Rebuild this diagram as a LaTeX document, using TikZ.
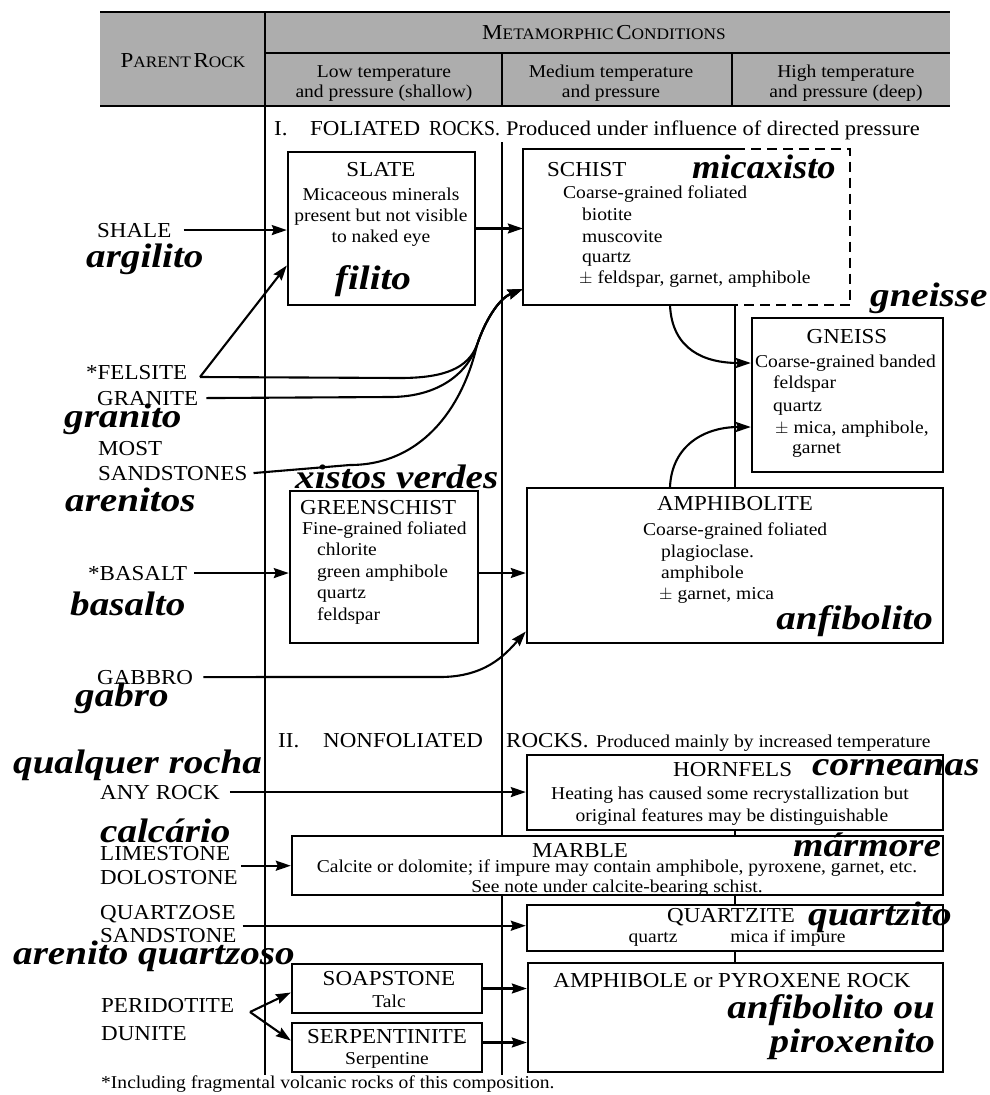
\documentclass[tikz,border=0pt]{standalone}
\usepackage{fontspec}
\setmainfont{Liberation Serif}[FakeStretch=1.08]
\newfontfamily\ptfont{Liberation Serif}[FakeStretch=1.15]
\usetikzlibrary{arrows.meta,fit}
\definecolor{hdr}{gray}{0.68}
\newcommand{\fs}[1]{\fontsize{#1}{#1}\selectfont}
\newcommand{\scx}[2]{{\fs{21.3}#1}{\fs{16}#2}}
\begin{document}
\begin{tikzpicture}[x=1pt,y=-1pt,
  bx/.style={draw, line width=2.4pt, inner sep=0pt},
  rule/.style={line width=1.9pt},
  arr/.style={line width=2.1pt, -{Stealth[length=15pt,width=10pt,inset=2pt]}},
  caplbl/.style={inner sep=0pt, anchor=base west, font={\fs{21.3}}},
  ttl/.style={inner sep=0pt, anchor=base, font={\fs{21.3}}},
  tx/.style={inner sep=0pt, anchor=base west, font={\fs{18.1}}},
  ctx/.style={inner sep=0pt, anchor=base, font={\fs{18.1}}},
  pw/.style={inner sep=0pt, anchor=base west, font={\ptfont\fs{34}\bfseries\itshape}},
  pe/.style={pw, anchor=base east},
  pc/.style={pw, anchor=base}]
\useasboundingbox (0,0) rectangle (989,1095);
\fill[white] (0,0) rectangle (989,1095);

% ---------- header ----------
\fill[hdr] (100,12) rectangle (950,106);
\draw[line width=2.4pt] (100,12) -- (950,12);
\draw[line width=2.2pt] (100,106) -- (950,106);
\draw[rule] (265,53) -- (950,53);
\draw[rule] (502,53) -- (502,106);
\draw[rule] (732,53) -- (732,106);
\draw[rule] (265,12) -- (265,1075);
\node[inner sep=0pt, anchor=base] (hpr) at (183,67) {\scx{P}{ARENT} \scx{R}{OCK}};
\node[inner sep=0pt, anchor=base] (hmc) at (604,39) {\scx{M}{ETAMORPHIC} \scx{C}{ONDITIONS}};
\node[ctx] (hl1) at (384,77) {Low temperature};
\node[ctx] (hl2) at (384,97) {and pressure (shallow)};
\node[ctx] (hm1) at (611,77) {Medium temperature};
\node[ctx] (hm2) at (611,97) {and pressure};
\node[ctx] (hh1) at (846,77) {High temperature};
\node[ctx] (hh2) at (846,97) {and pressure (deep)};

% ---------- section I ----------
\node[tx, font={\fs{21.3}}] (sec1a) at (274,135) {I.};
\node[tx, font={\fs{21.3}}] (sec1b) at (310,135) {FOLIATED};
\node[tx, font={\fs{21.3}}] (sec1c) at (429,135) {\scalebox{0.86}[1]{ROCKS.}};
\node[tx, font={\fs{20.8}}] (sec1d) at (506,135) {Produced under influence of directed pressure};

\node[bx, fit={(288,152) (475,305)}] (slate) {};
\node[inner sep=0pt, fit={(523,149) (850,305)}] (schist) {};
\node[bx, fit={(752,318) (943,472)}] (gneiss) {};
\node[bx, fit={(290,491) (478,643)}] (green) {};
\node[bx, fit={(527,488) (943,643)}] (amph) {};

\coordinate (v735) at (735,0);
\coordinate (v670) at (670,0);
\draw[line width=2.4pt] (schist.north -| v735) -- (schist.north west) -- (schist.south west) -- (schist.south -| v735);
\draw[line width=2.4pt, dash pattern=on 10pt off 6pt] (schist.north -| v735) -- (schist.north east) -- (schist.south east) -- (schist.south -| v735);
\draw[rule] (schist.south -| v735) -- (amph.north -| v735);

% slate text
\node[ttl] (slt) at (381,176) {SLATE};
\node[ctx] (sl1) at (381,200) {Micaceous minerals};
\node[ctx] (sl2) at (381,221) {present but not visible};
\node[ctx] (sl3) at (381,242) {to naked eye};
\node[pc] (filito) at (373,289) {filito};

% schist text
\node[caplbl] (sct) at (547,176) {SCHIST};
\node[tx] (sc1) at (563,198) {Coarse-grained foliated};
\node[tx] (sc2) at (582,220) {biotite};
\node[tx] (sc3) at (582,242) {muscovite};
\node[tx] (sc4) at (582,262) {quartz};
\node[tx] (sc5) at (579,283) {$\pm$ feldspar, garnet, amphibole};
\node[pw] (micax) at (692,178) {\scalebox{0.93}[1]{micaxisto}};

% gneiss text
\node[pw] (gneisse) at (870,306) {gneisse};
\node[ttl] (gnt) at (847,343) {GNEISS};
\node[tx] (gn1) at (755,367) {Coarse-grained banded};
\node[tx] (gn2) at (773,388) {feldspar};
\node[tx] (gn3) at (773,411) {quartz};
\node[tx] (gn4) at (775,433) {$\pm$ mica, amphibole,};
\node[tx] (gn5) at (792,453) {garnet};

% greenschist text
\node[pw] (xv) at (295,488) {xistos verdes};
\node[caplbl] (grt) at (300,514) {GREENSCHIST};
\node[tx] (gr1) at (302,534) {Fine-grained foliated};
\node[tx] (gr2) at (317,555) {chlorite};
\node[tx] (gr3) at (317,577) {green amphibole};
\node[tx] (gr4) at (317,598) {quartz};
\node[tx] (gr5) at (317,620) {feldspar};

% amphibolite text
\node[ttl] (amt) at (735,510) {AMPHIBOLITE};
\node[tx] (am1) at (643,535) {Coarse-grained foliated};
\node[tx] (am2) at (661,557) {plagioclase.};
\node[tx] (am3) at (661,578) {amphibole};
\node[tx] (am4) at (659,599) {$\pm$ garnet, mica};
\node[pe] (anf) at (933,629) {anfibolito};

% parent rocks (foliated)
\node[caplbl] (shale) at (97,237) {SHALE};
\node[pw] (argilito) at (86,267) {argilito};
\node[caplbl] (felsite) at (86,379) {*FELSITE};
\node[caplbl] (granite) at (97,405) {GRANITE};
\node[pw] (granito) at (64,427) {granito};
\node[caplbl] (most) at (98,455) {MOST};
\node[caplbl] (sandst) at (98,480) {SANDSTONES};
\node[pw] (arenitos) at (65,511) {arenitos};
\node[caplbl] (basalt) at (88,580) {*BASALT};
\node[pw] (basalto) at (70,615) {basalto};
\node[caplbl] (gabbro) at (97,684) {GABBRO};
\node[pw] (gabro) at (75,706) {gabro};

% ---------- section II ----------
\node[tx, font={\fs{21.3}}] (sec2a) at (278,747) {II.};
\node[tx, font={\fs{21.3}}] (sec2b) at (323,747) {NONFOLIATED};
\node[tx, font={\fs{21.3}}] (sec2c) at (506,747) {ROCKS.};
\node[tx] (sec2d) at (596,747) {Produced mainly by increased temperature};

\node[bx, fit={(527,755) (943,830)}] (hornfels) {};
\node[bx, fit={(292,836) (943,895)}] (marble) {};
\node[bx, fit={(527,905) (943,951)}] (quartzite) {};
\node[bx, fit={(528,963) (943,1072)}] (amprock) {};
\node[bx, fit={(292,964) (482,1013)}] (soap) {};
\node[bx, fit={(292,1023) (482,1072)}] (serp) {};

\coordinate (t502) at (502,142);
\coordinate (b502) at (502,1075);
\draw[rule] (t502) -- (t502 |- marble.north);
\draw[rule] (t502 |- marble.south) -- (b502);
\draw[rule] (hornfels.south -| v735) -- (marble.north -| v735);
\draw[rule] (marble.south -| v735) -- (quartzite.north -| v735);
\draw[rule] (quartzite.south -| v735) -- (amprock.north -| v735);

\node[caplbl] (hft) at (673,776) {HORNFELS};
\node[pw] (corn) at (812,775) {corneanas};
\node[ctx] (hf1) at (730,799) {Heating has caused some recrystallization but};
\node[ctx] (hf2) at (732,821) {original features may be distinguishable};

\node[ttl] (mbt) at (580,857) {MARBLE};
\node[pw] (marm) at (793,856) {mármore};
\node[ctx] (mb1) at (617,872) {Calcite or dolomite; if impure may contain amphibole, pyroxene, garnet, etc.};
\node[ctx] (mb2) at (617,892) {See note under calcite-bearing schist.};

\node[caplbl] (qzt) at (667,922) {QUARTZITE};
\node[pw] (qzto) at (808,925) {quartzito};
\node[ctx] (qz1) at (653,942) {quartz};
\node[ctx] (qz2) at (788,942) {mica if impure};

\node[ttl] (art) at (732,987) {AMPHIBOLE or PYROXENE ROCK};
\node[pe] (ar1) at (935,1018) {anfibolito ou};
\node[pe] (ar2) at (935,1052) {piroxenito};

\node[ttl] (spt) at (389,985) {SOAPSTONE};
\node[ctx] (sp1) at (389,1007) {Talc};
\node[ttl] (sert) at (387,1043) {SERPENTINITE};
\node[ctx] (ser1) at (387,1064) {Serpentine};

% parent rocks (nonfoliated)
\node[pw] (qualq) at (13,773) {qualquer rocha};
\node[caplbl] (anyrock) at (100,799) {ANY ROCK};
\node[pw] (calc) at (100,842) {calcário};
\node[caplbl] (limest) at (100,860) {LIMESTONE};
\node[caplbl] (dolost) at (100,884) {DOLOSTONE};
\node[caplbl] (qzose) at (100,919) {QUARTZOSE};
\node[caplbl] (qsand) at (100,942) {SANDSTONE};
\node[pw] (arq) at (13,964) {arenito quartzoso};
\node[caplbl] (perid) at (101,1012) {PERIDOTITE};
\node[caplbl] (dunite) at (101,1040) {DUNITE};

\node[tx] (foot) at (101,1088) {*Including fragmental volcanic rocks of this composition.};

% ---------- connectors ----------
\draw[arr] ([xshift=12pt]shale.east) -- (shale.east -| slate.west);
\draw[arr] (slate.east) -- (slate.east -| schist.west);
\coordinate (fv) at (200,377);
\coordinate (se) at ([yshift=-62pt]schist.west);
\draw[arr] (fv) -- ([yshift=-37pt]slate.west);
\draw[arr] (fv) -- (400,378) .. controls (445,378) and (468,368) .. (477,345) .. controls (486,318) and (500,298) .. (se);
\draw[arr] ([xshift=8pt]granite.east) -- (390,397) .. controls (440,397) and (468,372) .. (477,345) .. controls (486,318) and (500,298) .. (se);
\draw[arr] ([xshift=6pt]sandst.east) -- (350,465) .. controls (420,465) and (462,410) .. (477,345) .. controls (486,318) and (500,298) .. (se);
\draw[arr] ([xshift=7pt]basalt.east) -- (basalt.east -| green.west);
\draw[arr] ([yshift=-6pt]green.east) -- ([yshift=-6pt]green.east -| amph.west);
\draw[arr] ([xshift=10pt]gabbro.east) -- (440,677) .. controls (485,677) and (505,655) .. ([yshift=-66pt]amph.west);
\draw[arr] (schist.south -| v670) .. controls (672,350) and (705,363) .. ([yshift=32pt]gneiss.west);
\draw[arr] (amph.north -| v670) .. controls (672,445) and (705,427) .. ([yshift=-32pt]gneiss.west);

\draw[arr] ([xshift=10pt]anyrock.east) -- (anyrock.east -| hornfels.west);
\coordinate (ls) at ([xshift=3pt,yshift=4pt]dolost.north east);
\draw[arr] (ls) -- (ls -| marble.west);
\coordinate (qs) at ([xshift=6pt,yshift=2pt]qsand.north east);
\draw[arr] (qs) -- (qs -| quartzite.west);
\coordinate (pv) at (250,1012);
\draw[arr] (pv) -- ([yshift=-4pt]soap.west);
\draw[arr] (pv) -- ([yshift=7pt]serp.west);
\draw[arr] (soap.east) -- (soap.east -| amprock.west);
\draw[arr] ([yshift=5pt]serp.east) -- ([yshift=5pt]serp.east -| amprock.west);
\end{tikzpicture}
\end{document}
